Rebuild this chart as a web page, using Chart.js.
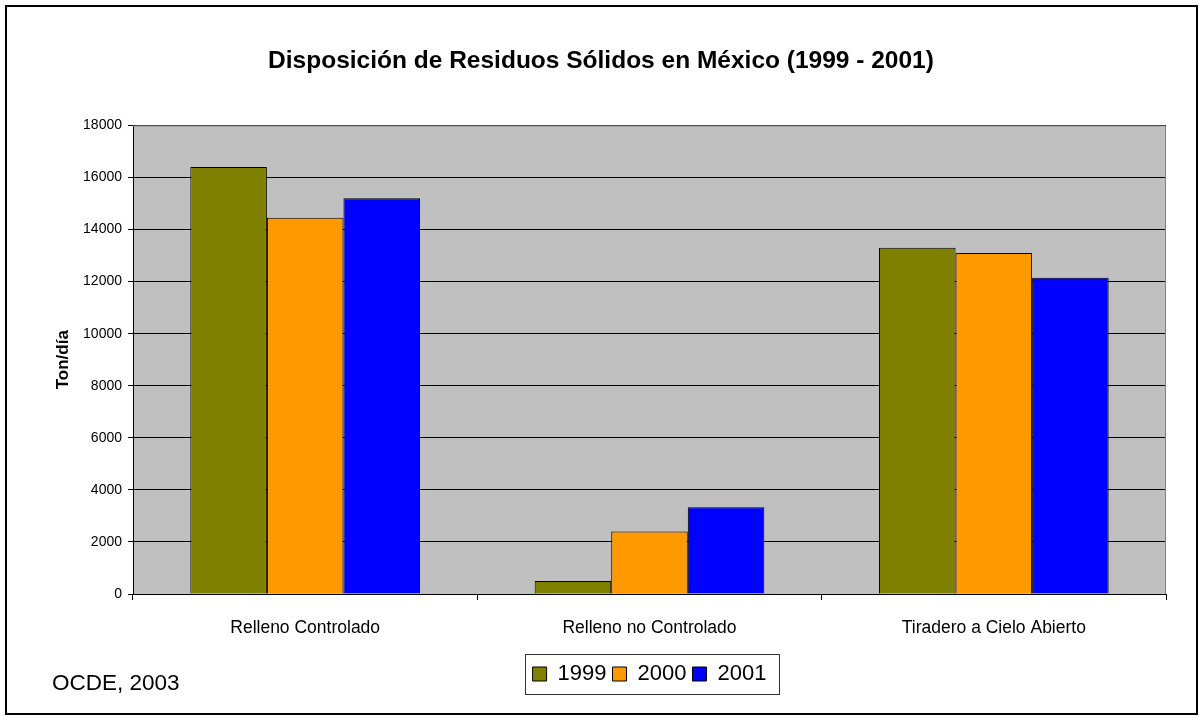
<!DOCTYPE html>
<html>
<head>
<meta charset="utf-8">
<script src="https://cdn.jsdelivr.net/npm/chart.js@4.4.1/dist/chart.umd.min.js"></script>
<style>
  html, body { margin: 0; padding: 0; background: #ffffff; }
  #wrap { width: 1202px; height: 717px; position: relative; }
</style>
</head>
<body>
<div id="wrap"><canvas id="grafico"></canvas></div>
<script>
// Datos (Ton/día)
const categorias = ['Relleno Controlado', 'Relleno no Controlado', 'Tiradero a Cielo Abierto'];
const anios = ['1999', '2000', '2001'];
const datos1999 = [16400, 500, 13300];
const datos2000 = [14450, 2400, 13100];
const datos2001 = [15200, 3330, 12150];
const colores = ['#808000', '#FF9900', '#0000FF'];

const fuente = 'Liberation Sans, Arial, sans-serif';

// Marco exterior, fondo gris del área de trazado, recuadro de la leyenda y nota de fuente
const decoracion = {
  id: 'decoracion',
  beforeDraw(chart) {
    const { ctx, chartArea: a } = chart;
    ctx.save();
    ctx.fillStyle = '#C0C0C0';
    ctx.fillRect(a.left, a.top, a.right - a.left, a.bottom - a.top);
    ctx.restore();
  },
  afterDatasetsDraw(chart) {
    const { ctx, chartArea: a } = chart;
    ctx.save();
    // borde superior y derecho del área de trazado
    ctx.strokeStyle = '#808080';
    ctx.lineWidth = 1;
    ctx.beginPath();
    ctx.moveTo(a.left, a.top + 0.5);
    ctx.lineTo(a.right - 0.5, a.top + 0.5);
    ctx.lineTo(a.right - 0.5, a.bottom);
    ctx.stroke();
    ctx.restore();
  },
  afterDraw(chart) {
    const { ctx, width, height } = chart;
    ctx.save();
    ctx.strokeStyle = '#000000';
    ctx.lineWidth = 2;
    ctx.strokeRect(6, 6, width - 11, height - 9);

    const lg = chart.legend;
    if (lg && lg.legendHitBoxes.length) {
      const hb = lg.legendHitBoxes;
      const x0 = hb[0].left - 8;
      const x1 = hb[hb.length - 1].left + hb[hb.length - 1].width + 12;
      const y0 = hb[0].top - 9;
      const y1 = hb[0].top + hb[0].height + 9;
      ctx.strokeStyle = '#333333';
      ctx.lineWidth = 1;
      ctx.strokeRect(Math.round(x0) + 0.5, Math.round(y0) + 0.5, Math.round(x1 - x0), Math.round(y1 - y0));
    }

    ctx.fillStyle = '#000000';
    ctx.font = '22.5px ' + fuente;
    ctx.textBaseline = 'middle';
    ctx.textAlign = 'left';
    ctx.fillText('OCDE, 2003', 52, 684);
    ctx.restore();
  }
};

new Chart(document.getElementById('grafico'), {
  type: 'bar',
  data: {
    labels: categorias,
    datasets: [
      { label: anios[0], data: datos1999, backgroundColor: colores[0] },
      { label: anios[1], data: datos2000, backgroundColor: colores[1] },
      { label: anios[2], data: datos2001, backgroundColor: colores[2] }
    ].map(d => Object.assign(d, { borderColor: '#000000', borderWidth: 1 }))
  },
  options: {
    responsive: true,
    maintainAspectRatio: false,
    animation: false,
    devicePixelRatio: 1,
    layout: { padding: { left: 36, right: 36, top: 0, bottom: 22 } },
    datasets: { bar: { categoryPercentage: 0.667, barPercentage: 1.0 } },
    plugins: {
      title: {
        display: true,
        text: 'Disposición de Residuos Sólidos en México (1999 - 2001)',
        color: '#000000',
        font: { family: fuente, size: 24.5, weight: 'bold' },
        padding: { top: 47, bottom: 49 }
      },
      legend: {
        position: 'bottom',
        fullSize: false,
        labels: {
          color: '#000000',
          font: { family: fuente, size: 22 },
          boxWidth: 14,
          boxHeight: 14,
          padding: 6,
          useBorderRadius: false
        }
      },
      tooltip: { enabled: false }
    },
    scales: {
      x: {
        offset: true,
        afterFit(s) { s.height = 63; },
        grid: { display: true, offset: true, drawOnChartArea: false, drawTicks: true, tickLength: 6, color: '#000000' },
        border: { color: '#000000', width: 1 },
        ticks: { color: '#000000', font: { family: fuente, size: 17.5 }, padding: 18, maxRotation: 0 }
      },
      y: {
        min: 0,
        max: 18000,
        afterFit(s) { s.width = 97; },
        grid: { color: '#000000', lineWidth: 1, tickLength: 5, drawTicks: true },
        border: { color: '#000000', width: 1 },
        ticks: {
          stepSize: 2000,
          color: '#000000',
          font: { family: fuente, size: 14 },
          padding: 6,
          callback: v => String(v)
        },
        title: {
          display: true,
          text: 'Ton/día',
          color: '#000000',
          font: { family: fuente, size: 17, weight: 'bold' },
          padding: { top: 17, bottom: 0 }
        }
      }
    }
  },
  plugins: [decoracion]
});
</script>
</body>
</html>
